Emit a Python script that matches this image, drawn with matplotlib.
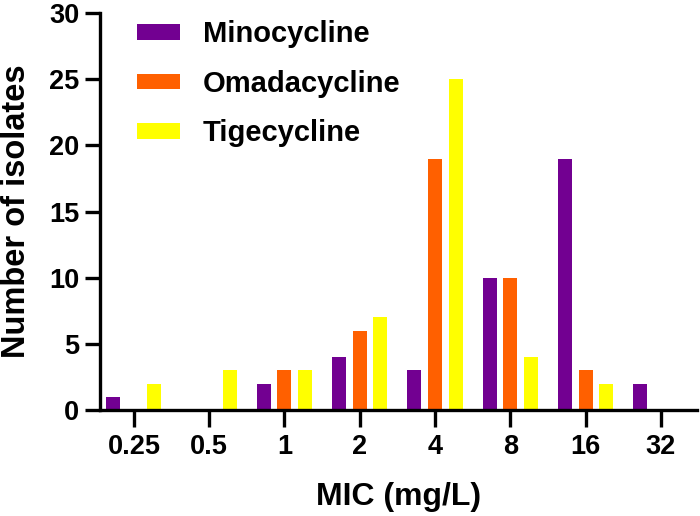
import matplotlib
matplotlib.use("Agg")
import matplotlib.pyplot as plt
import numpy as np

plt.rcParams['font.family'] = ['Liberation Sans', 'DejaVu Sans']
plt.rcParams['font.weight'] = 'bold'

categories = ["0.25", "0.5", "1", "2", "4", "8", "16", "32"]
series_names = ["Minocycline", "Omadacycline", "Tigecycline"]
minocycline = [1, 0, 2, 4, 3, 10, 19, 2]
omadacycline = [0, 0, 3, 6, 19, 10, 3, 0]
tigecycline = [2, 3, 3, 7, 25, 4, 2, 0]
colors = ["#720091", "#FF6000", "#FFFF00"]

fig = plt.figure(figsize=(7.0, 5.16), dpi=100)
ax = fig.add_axes([100/700, 1-410/516, 597/700, 397/516])

x = np.arange(len(categories))
offset = 0.273
width = 0.187
for i, (vals, name, c) in enumerate(zip([minocycline, omadacycline, tigecycline], series_names, colors)):
    ax.bar(x + (i-1)*offset, vals, width=width, color=c, label=name, zorder=2)

ax.set_xlim(-0.45, 7.48)
ax.set_ylim(0, 30)
ax.set_yticks([0, 5, 10, 15, 20, 25, 30])
ax.set_xticks(x)
ax.set_xticklabels(categories)

for s in ['top', 'right']:
    ax.spines[s].set_visible(False)
for s in ['left', 'bottom']:
    ax.spines[s].set_linewidth(2.4)
ax.tick_params(axis='both', width=2.4, labelsize=19.5)
ax.tick_params(axis='x', length=12, pad=5)
ax.tick_params(axis='y', length=11, pad=4)

ax.set_ylabel("Number of isolates", fontsize=23.5, fontweight='bold', labelpad=12)
ax.set_xlabel("MIC (mg/L)", fontsize=23, fontweight='bold', labelpad=16)

leg = ax.legend(loc='upper left', bbox_to_anchor=(0.062, 0.982), frameon=False,
                fontsize=21, handlelength=1.47, handleheight=0.45, handletextpad=0.79,
                labelspacing=0.74, borderpad=0, borderaxespad=0)

fig.savefig("out.png", dpi=100)
